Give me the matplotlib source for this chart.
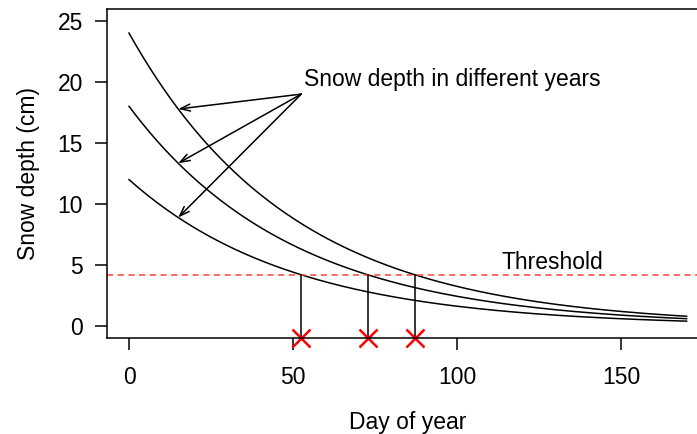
import numpy as np
import matplotlib.pyplot as plt

plt.rcParams['font.family'] = ['Liberation Sans', 'DejaVu Sans']

# curves: snow depth decaying from an initial depth
initial_depth = [24, 18, 12]   # cm at day 0
decay_rate = 0.02              # per day
day_max = 170
threshold = 4.2
arrow_day = 15
label_pos = (53.5, 20.2)
arrow_from = (52.5, 19.0)

days = np.linspace(0, day_max, 400)
fs = 16.5

fig = plt.figure(figsize=(6.97, 4.34), dpi=100)
ax = fig.add_axes([0.1531, 0.2212, 0.864, 0.7588])

for d0 in initial_depth:
    ax.plot(days, d0 * np.exp(-decay_rate * days), color='black', lw=1.1)

ax.axhline(threshold, color='#ff4040', lw=1.1, ls=(0, (4, 3)))
ax.text(129, threshold + 0.1, 'Threshold', fontsize=fs, ha='center', va='bottom')

ymin = -0.98
for d0 in initial_depth:
    cross = np.log(d0 / threshold) / decay_rate
    ax.plot([cross, cross], [ymin, threshold], color='black', lw=1.1)
    ax.plot(cross, -1.0, marker='x', color='red', ms=13, mew=1.8, clip_on=False)

ax.text(label_pos[0], label_pos[1], 'Snow depth in different years', fontsize=fs,
        ha='left', va='center')
for d0 in initial_depth:
    ax.annotate('', xy=(arrow_day, d0 * np.exp(-decay_rate * arrow_day)), xytext=arrow_from,
                arrowprops=dict(arrowstyle='->,head_length=0.7,head_width=0.25',
                                color='black', lw=1.1, shrinkA=0, shrinkB=0))

ax.set_xlim(-6.8, 176.8)
ax.set_ylim(ymin, 26.0)
ax.set_xticks([0, 50, 100, 150])
ax.set_yticks([0, 5, 10, 15, 20, 25])
ax.tick_params(length=8.4, width=1.1, labelsize=fs, pad=12)
ax.tick_params(axis='y', pad=8.5)
for s in ax.spines.values():
    s.set_linewidth(1.1)
ax.set_xlabel('Day of year', fontsize=fs, labelpad=15.5)
ax.set_ylabel('Snow depth (cm)', fontsize=fs, labelpad=13)

fig.savefig('out.png', dpi=100)
